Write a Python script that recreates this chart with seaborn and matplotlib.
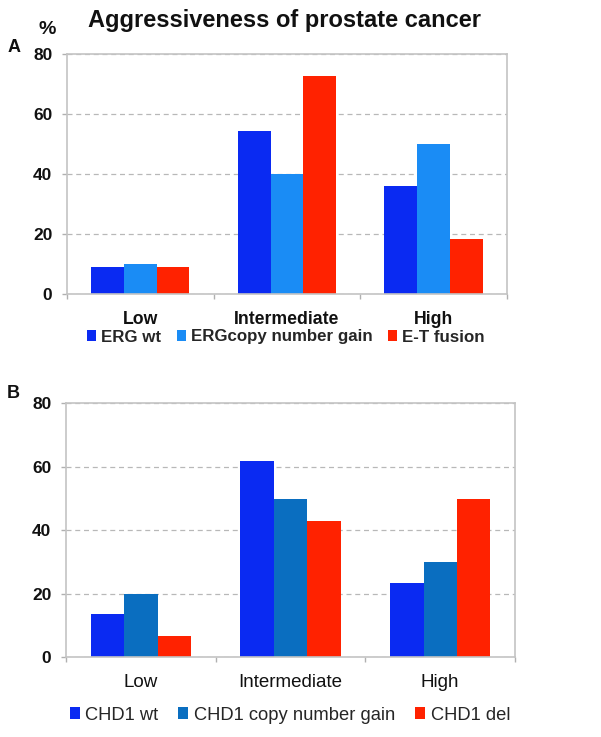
import matplotlib
matplotlib.use("Agg")
import matplotlib.pyplot as plt
import seaborn as sns
import pandas as pd

categories = ["Low", "Intermediate", "High"]

series_a = ["ERG wt", "ERGcopy number gain", "E-T fusion"]
erg_wt = [9.1, 54.2, 36.0]
erg_gain = [10.0, 39.8, 49.8]
et_fusion = [9.1, 72.4, 18.2]

series_b = ["CHD1 wt", "CHD1 copy number gain", "CHD1 del"]
chd1_wt = [13.7, 61.8, 23.4]
chd1_gain = [19.8, 49.8, 29.9]
chd1_del = [6.6, 42.7, 49.8]

yticks = [0, 20, 40, 60, 80]

colors_a = ["#0a2af2", "#1a8cf5", "#ff2200"]
colors_b = ["#0a2af2", "#0a6ec0", "#ff2200"]

sns.set_theme(style="white")
plt.rcParams["font.family"] = ["Liberation Sans", "DejaVu Sans"]


def make_df(series, values):
    rows = []
    for s, vals in zip(series, values):
        for c, v in zip(categories, vals):
            rows.append({"grade": c, "pct": v, "group": s})
    return pd.DataFrame(rows)


df_a = make_df(series_a, [erg_wt, erg_gain, et_fusion])
df_b = make_df(series_b, [chd1_wt, chd1_gain, chd1_del])

fig = plt.figure(figsize=(6.01, 7.37), dpi=100)
ax_a = fig.add_axes([0.1115, 0.601, 0.732, 0.3264])
ax_b = fig.add_axes([0.110, 0.1085, 0.747, 0.3446])


def style(ax, df, series, colors, label_weight, label_size, leg_size, legend_y,
          legend_x, colspace):
    sns.barplot(data=df, x="grade", y="pct", hue="group", hue_order=series,
                order=categories, palette=colors, width=0.67, saturation=1,
                ax=ax, errorbar=None, linewidth=0)
    ax.set_xlim(-0.5, 2.5)
    ax.set_ylim(0, 80)
    ax.set_yticks(yticks)
    ax.set_yticklabels([str(t) for t in yticks], fontsize=12.5, fontweight="bold",
                       color="#111111")
    ax.set_xlabel("")
    ax.set_ylabel("")
    ax.set_xticks([0, 1, 2])
    ax.set_xticklabels(categories, fontsize=label_size, fontweight=label_weight,
                       color="#111111")
    ax.tick_params(axis="x", length=0, pad=12)
    ax.set_xticks([-0.5, 0.5, 1.5, 2.5], minor=True)
    ax.tick_params(axis="x", which="minor", length=3.6, color="#b0b0b0", width=1,
                   direction="out", bottom=True)
    ax.tick_params(axis="y", length=3.6, color="#b0b0b0", width=1, direction="out",
                   left=True, pad=7)
    for s in ["left", "right", "top", "bottom"]:
        ax.spines[s].set_visible(True)
        ax.spines[s].set_color("#c4c4c4")
        ax.spines[s].set_linewidth(1.2)
    ax.yaxis.grid(True, linestyle=(0, (4, 3)), color="#b8b8b8", linewidth=0.9)
    ax.set_axisbelow(True)
    handles, labels = ax.get_legend_handles_labels()
    ax.legend(handles, labels, loc="center", bbox_to_anchor=(legend_x, legend_y),
              bbox_transform=fig.transFigure, ncol=3, frameon=False,
              handlelength=0.55, handleheight=0.55,
              handletextpad=0.3, columnspacing=colspace, borderaxespad=0,
              prop={"size": leg_size, "weight": label_weight})


style(ax_a, df_a, series_a, colors_a, "bold", 12.7, 12.2, 1 - 337 / 737,
      286 / 601, 0.9)
style(ax_b, df_b, series_b, colors_b, "normal", 13.5, 13.2, 1 - 715 / 737,
      290 / 601, 1.1)

fig.text(284 / 601, 1 - 21 / 737, "Aggressiveness of prostate cancer",
         ha="center", va="center", fontsize=17, fontweight="bold", color="#111111")
fig.text(47 / 601, 1 - 29 / 737, "%", ha="center", va="center", fontsize=14,
         fontweight="bold", color="#111111")
fig.text(14 / 601, 1 - 48 / 737, "A", ha="center", va="center", fontsize=13,
         fontweight="bold", color="#111111")
fig.text(13 / 601, 1 - 393 / 737, "B", ha="center", va="center", fontsize=13,
         fontweight="bold", color="#111111")

fig.savefig("out.png", dpi=100)
